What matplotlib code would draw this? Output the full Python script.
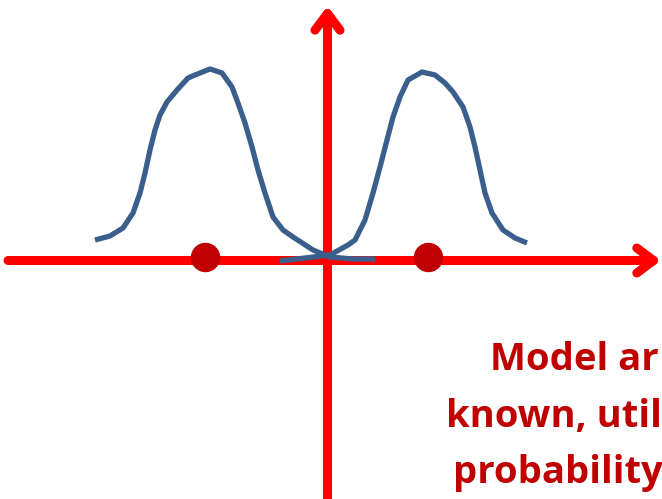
import matplotlib
matplotlib.use("Agg")
import matplotlib.pyplot as plt

# points, in pixel coordinates (y grows downward)
left_x = [95, 110, 123, 133, 140, 145, 150, 155, 160, 167, 177, 188, 195, 210, 222, 232, 238,
          245, 252, 258, 265, 273, 283, 293, 313, 330, 353, 375]
left_y = [240, 236, 228, 213, 193, 173, 150, 130, 115, 102, 90, 78, 75, 69, 73, 87, 103,
          123, 147, 170, 193, 217, 230, 237, 250, 257, 259, 259]

right_x = [280, 305, 330, 348, 355, 365, 373, 380, 387, 393, 400, 408, 422, 435, 445, 453,
           463, 470, 475, 480, 485, 492, 503, 515, 527]
right_y = [261, 258, 255, 245, 240, 220, 193, 167, 140, 117, 97, 80, 72, 75, 83, 92,
           107, 127, 147, 170, 193, 213, 230, 238, 243]

dot_x = [205, 428]
dot_y = [257, 257]

text_lines = ["Model ar", "known, util", "probability"]
text_x = [490, 446, 453]
text_y = [370, 427, 483]

RED = "#FF0000"
DARK_RED = "#C00000"
BLUE = "#3A5F8C"

fig = plt.figure(figsize=(6.62, 4.99), dpi=100)
ax = fig.add_axes([0, 0, 1, 1])
ax.set_xlim(0, 662)
ax.set_ylim(499, 0)
ax.axis("off")

# axes arrows
arrow = dict(arrowstyle="->,head_length=1.2,head_width=0.9", color=RED, lw=6.5,
             capstyle="round", joinstyle="round", shrinkA=0, shrinkB=0)
ax.annotate("", xy=(661, 260.5), xytext=(8, 260.5), arrowprops=arrow, zorder=1)
ax.annotate("", xy=(327.5, 6), xytext=(327.5, 499), arrowprops=arrow, zorder=1)

ax.plot(left_x, left_y, color=BLUE, lw=3.8, solid_capstyle="butt",
        solid_joinstyle="round", zorder=2)
ax.plot(right_x, right_y, color=BLUE, lw=3.8, solid_capstyle="butt",
        solid_joinstyle="round", zorder=2)

ax.scatter(dot_x, dot_y, s=(28 * 0.72) ** 2, color=DARK_RED, zorder=3)

for s, x, y in zip(text_lines, text_x, text_y):
    ax.text(x, y, s, color=DARK_RED, fontsize=27.5, fontweight="bold", family="Open Sans",
            ha="left", va="baseline")

fig.savefig("out.png", dpi=100)
